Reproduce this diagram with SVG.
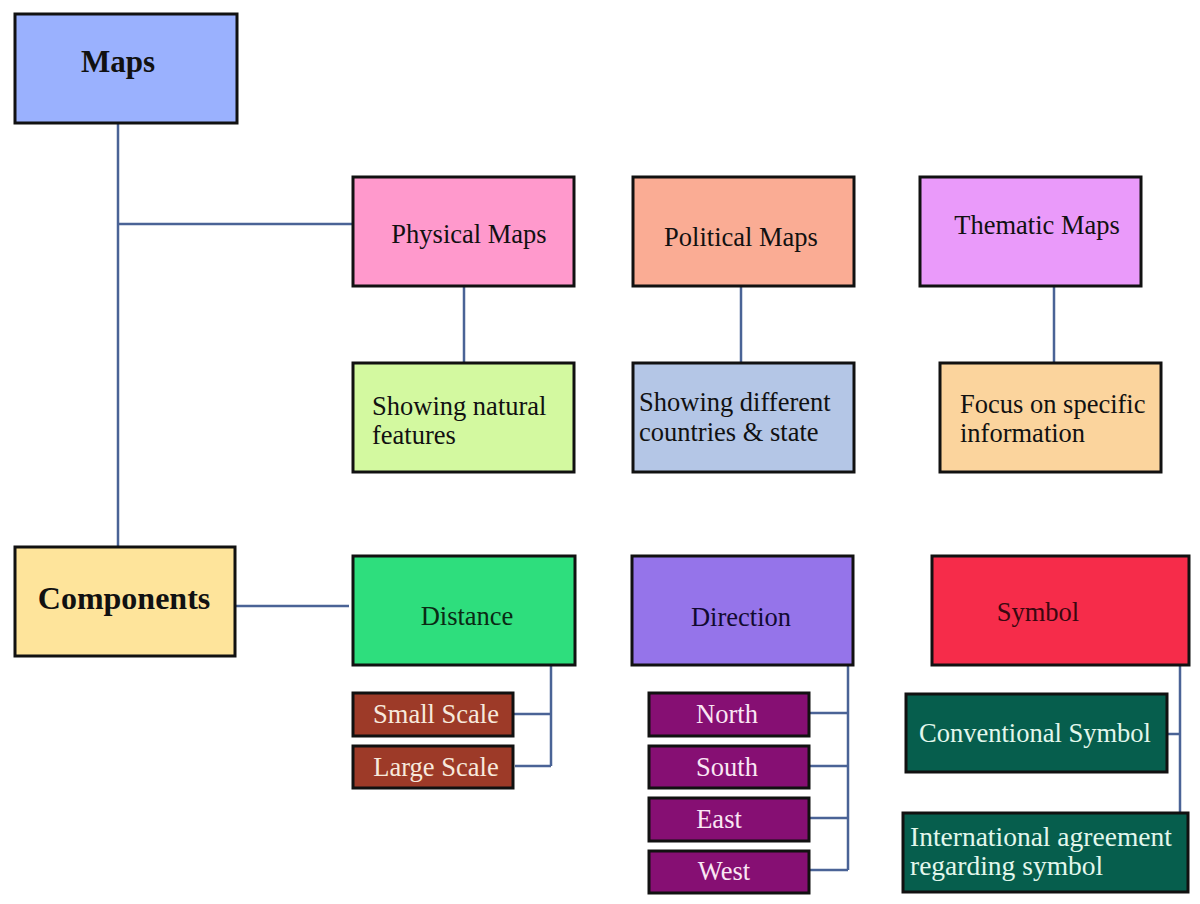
<svg xmlns="http://www.w3.org/2000/svg" width="1200" height="904" viewBox="0 0 1200 904">
<style>
.box{stroke:#111;stroke-width:3}
.t{font-family:"Liberation Serif","DejaVu Serif",serif;font-size:26.5px;fill:#111}
.b{font-family:"Liberation Serif","DejaVu Serif",serif;font-size:31px;font-weight:bold;fill:#111}
.c{text-anchor:middle}
.cream{fill:#F7E9DC}
.pinkw{fill:#FAE6F4}
.mint{fill:#E2F7EC}
.conn{stroke:#4A6396;stroke-width:2.5;fill:none}
</style>
<rect width="1200" height="904" fill="#fff"/>
<g id="connectors">
<path class="conn" d="M118 123V547M118 224H353"/>
<path class="conn" d="M464 286V363M741 286V363M1054 286V363"/>
<path class="conn" d="M235 606H349"/>
<path class="conn" d="M551 666V766M513 714H551M515 766H551"/>
<path class="conn" d="M848 666V870M809 713H848M809 766H848M809 818H848M809 870H848"/>
<path class="conn" d="M1180 666V813M1167 734H1180"/>
</g>
<g id="maps"><rect class="box" x="15" y="14" width="222" height="109" fill="#9AB1FE"/><text class="b c" x="118" y="72">Maps</text></g>
<g id="physical"><rect class="box" x="353" y="177" width="221" height="109" fill="#FF99CC"/><text class="t c" x="469" y="243">Physical Maps</text></g>
<g id="political"><rect class="box" x="633" y="177" width="221" height="109" fill="#FAAC94"/><text class="t c" x="741" y="246">Political Maps</text></g>
<g id="thematic"><rect class="box" x="920" y="177" width="221" height="109" fill="#EA9AFA"/><text class="t c" x="1037" y="234">Thematic Maps</text></g>
<g id="natural"><rect class="box" x="353" y="363" width="221" height="109" fill="#D3F9A0"/><text class="t" x="372" y="415">Showing natural</text><text class="t" x="372" y="444">features</text></g>
<g id="different"><rect class="box" x="633" y="363" width="221" height="109" fill="#B4C6E6"/><text class="t" x="639" y="411">Showing different</text><text class="t" x="639" y="441">countries &amp; state</text></g>
<g id="focus"><rect class="box" x="940" y="363" width="221" height="109" fill="#FBD49D"/><text class="t" x="960" y="413">Focus on specific</text><text class="t" x="960" y="442">information</text></g>
<g id="components"><rect class="box" x="15" y="547" width="220" height="109" fill="#FEE49B"/><text class="b c" x="124" y="609" style="font-size:32px">Components</text></g>
<g id="distance"><rect class="box" x="353" y="556" width="222" height="109" fill="#2EDE7D"/><text class="t c" x="467" y="625" style="fill:#0a2a14">Distance</text></g>
<g id="direction"><rect class="box" x="632" y="556" width="221" height="109" fill="#9574EA"/><text class="t c" x="741" y="626" style="fill:#120a30">Direction</text></g>
<g id="symbol"><rect class="box" x="932" y="556" width="257" height="109" fill="#F62C4A"/><text class="t c" x="1038" y="621" style="fill:#3a0810">Symbol</text></g>
<g id="small"><rect class="box" x="353" y="693" width="160" height="43" fill="#9D3A28"/><text class="t c cream" x="436" y="723">Small Scale</text></g>
<g id="large"><rect class="box" x="353" y="746" width="160" height="42" fill="#9D3A28"/><text class="t c cream" x="436" y="776">Large Scale</text></g>
<g id="north"><rect class="box" x="649" y="693" width="160" height="43" fill="#860F73"/><text class="t c pinkw" x="727" y="723">North</text></g>
<g id="south"><rect class="box" x="649" y="746" width="160" height="42" fill="#860F73"/><text class="t c pinkw" x="727" y="776">South</text></g>
<g id="east"><rect class="box" x="649" y="798" width="160" height="43" fill="#860F73"/><text class="t c pinkw" x="719" y="828">East</text></g>
<g id="west"><rect class="box" x="649" y="851" width="160" height="42" fill="#860F73"/><text class="t c pinkw" x="724" y="880">West</text></g>
<g id="conventional"><rect class="box" x="906" y="694" width="261" height="78" fill="#065E4D"/><text class="t c mint" x="1035" y="742">Conventional Symbol</text></g>
<g id="international"><rect class="box" x="903" y="813" width="285" height="79" fill="#065E4D"/><text class="t mint" x="910" y="846" style="font-size:27.5px">International agreement</text><text class="t mint" x="910" y="875" style="font-size:27.5px">regarding symbol</text></g>
</svg>
